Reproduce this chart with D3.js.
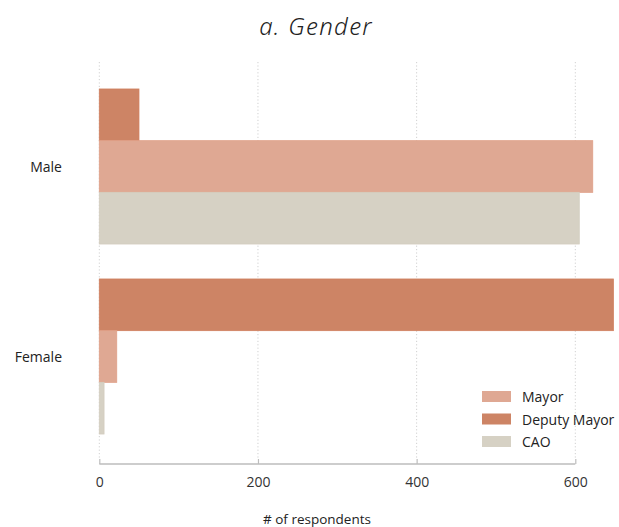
<!DOCTYPE html>
<html>
<head>
<meta charset="utf-8">
<script src="https://cdn.jsdelivr.net/npm/d3@7"></script>
<style>
  html, body { margin: 0; padding: 0; background: #fff; }
  svg { display: block; }
</style>
</head>
<body>
<svg id="chart" width="619" height="527"></svg>
<script>
// Respondents by gender, per role
const categories = ["Male", "Female"];
const roles = ["Deputy Mayor", "Mayor", "CAO"];
const legendOrder = ["Mayor", "Deputy Mayor", "CAO"];
const deputyMayor = [50, 648];
const mayor = [622, 22];
const cao = [605, 6];
const xTicks = [0, 200, 400, 600];

const seriesValues = { "Deputy Mayor": deputyMayor, "Mayor": mayor, "CAO": cao };
const fills = { "Mayor": "#dfa893", "Deputy Mayor": "#cd8465", "CAO": "#d6d1c4" };
const strokes = { "Mayor": "#e0a088", "Deputy Mayor": "#d07f5e", "CAO": "#d3cdbf" };

const svg = d3.select("#chart");
const font = "'Open Sans', 'Noto Sans', sans-serif";

const x = d3.scaleLinear().domain([0, 600]).range([99.3, 575.3]);
const y = d3.scaleBand().domain(categories).range([71.5, 451.5])
  .paddingInner(0.184).paddingOuter(0.092);
const yInner = d3.scaleBand().domain(roles).range([0, y.bandwidth()]);

// Dotted vertical gridlines
svg.append("g").selectAll("line").data(xTicks).join("line")
  .attr("x1", d => x(d)).attr("x2", d => x(d))
  .attr("y1", 62).attr("y2", 459)
  .attr("stroke", "#d0d0d0").attr("stroke-width", 1)
  .attr("stroke-dasharray", "1.2,2.2");

// Bars
const groups = svg.append("g").selectAll("g").data(categories).join("g")
  .attr("transform", d => `translate(0,${y(d)})`);
groups.selectAll("rect")
  .data((c, i) => roles.map(r => ({ role: r, value: seriesValues[r][i] })))
  .join("rect")
  .attr("x", x(0))
  .attr("y", d => yInner(d.role))
  .attr("width", d => x(d.value) - x(0))
  .attr("height", yInner.bandwidth())
  .attr("fill", d => fills[d.role])
  .attr("stroke", d => strokes[d.role])
  .attr("stroke-width", 0.8);

// Category labels
svg.append("g").selectAll("text").data(categories).join("text")
  .attr("x", 62).attr("y", d => y(d) + y.bandwidth() / 2)
  .attr("text-anchor", "end").attr("dominant-baseline", "central")
  .attr("font-family", font).attr("font-size", 14).attr("fill", "#222")
  .text(d => d);

// X axis with upward ticks
const xAxis = svg.append("g")
  .attr("transform", "translate(0,464)")
  .call(d3.axisBottom(x).tickValues(xTicks).tickSize(-5).tickPadding(13).tickSizeOuter(0));
xAxis.select(".domain").attr("stroke", "#bdbdbd").attr("stroke-width", 1.6)
  .attr("d", `M${x(0)},0H${x(600)}`);
xAxis.selectAll(".tick line").attr("stroke", "#bdbdbd").attr("stroke-width", 1.2);
xAxis.selectAll(".tick text").attr("font-family", font).attr("font-size", 14)
  .attr("fill", "#333");

// Axis title
svg.append("text").attr("x", 317).attr("y", 524)
  .attr("text-anchor", "middle").attr("font-family", font)
  .attr("font-size", 13.5).attr("fill", "#222")
  .text("# of respondents");

// Title
svg.append("text").attr("x", 316).attr("y", 35)
  .attr("text-anchor", "middle").attr("font-family", "'Noto Sans', sans-serif")
  .attr("font-style", "italic").attr("font-weight", 300)
  .attr("font-size", 24).attr("fill", "#222")
  .attr("letter-spacing", 1.3)
  .text("a. Gender");

// Legend
const legend = svg.append("g").selectAll("g").data(legendOrder).join("g")
  .attr("transform", (d, i) => `translate(482,${391 + i * 22.5})`);
legend.append("rect").attr("width", 29).attr("height", 11)
  .attr("fill", d => fills[d]);
legend.append("text").attr("x", 40).attr("y", 5.5)
  .attr("dominant-baseline", "central")
  .attr("font-family", font).attr("font-size", 14).attr("fill", "#222")
  .text(d => d);
</script>
</body>
</html>
